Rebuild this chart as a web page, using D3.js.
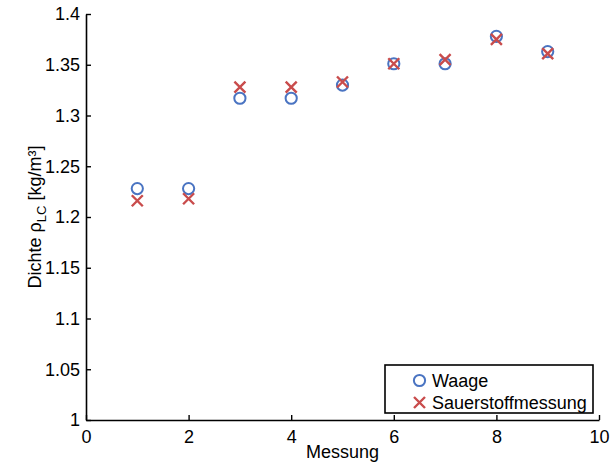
<!DOCTYPE html>
<html>
<head>
<meta charset="utf-8">
<script src="https://cdn.jsdelivr.net/npm/d3@7"></script>
<style>
  body { margin: 0; background: #fff; }
  svg text { font-family: "Liberation Sans", Arial, sans-serif; fill: #000; }
</style>
</head>
<body>
<svg id="chart" width="611" height="467"></svg>
<script>
// Messung (x) against Dichte rho_LC (y), two methods
const messung = [1, 2, 3, 4, 5, 6, 7, 8, 9];
const waage = [1.228, 1.228, 1.317, 1.317, 1.330, 1.351, 1.351, 1.378, 1.363];
const sauerstoff = [1.216, 1.218, 1.328, 1.328, 1.333, 1.351, 1.355, 1.375, 1.361];
const xTicks = [0, 2, 4, 6, 8, 10];
const yTicks = [1, 1.05, 1.1, 1.15, 1.2, 1.25, 1.3, 1.35, 1.4];
const seriesNames = ["Waage", "Sauerstoffmessung"];

const BLUE = "#4a74c2";
const RED = "#c94c4c";
const FONT = 18;

// plot box (window.top exists, so no plain "top")
const mLeft = 86, mRight = 599, mTop = 14, mBottom = 420;

const x = d3.scaleLinear().domain([0, 10]).range([mLeft, mRight]);
const y = d3.scaleLinear().domain([1, 1.4]).range([mBottom, mTop]);

const svg = d3.select("#chart");

// axes, ticks pointing inward like matlab
const gx = svg.append("g")
    .attr("transform", `translate(0, ${mBottom})`)
    .call(d3.axisBottom(x).tickValues(xTicks).tickFormat(d3.format("d"))
        .tickSizeInner(-5).tickSizeOuter(0).tickPadding(10));

const gy = svg.append("g")
    .attr("transform", `translate(${mLeft}, 0)`)
    .call(d3.axisLeft(y).tickValues(yTicks).tickFormat(d => String(+d.toFixed(2)))
        .tickSizeInner(-5).tickSizeOuter(0).tickPadding(6));

[gx, gy].forEach(g => {
    g.select(".domain").attr("stroke", "#000").attr("stroke-width", 1.6);
    g.selectAll(".tick line").attr("stroke", "#000").attr("stroke-width", 1.4);
    g.selectAll(".tick text").attr("font-size", FONT).attr("fill", "#000")
        .attr("font-family", "Liberation Sans, Arial, sans-serif");
});

// axis labels
svg.append("text")
    .attr("x", (mLeft + mRight) / 2)
    .attr("y", 458)
    .attr("text-anchor", "middle")
    .attr("font-size", FONT)
    .text("Messung");

const yl = svg.append("text")
    .attr("transform", `translate(41, ${(mTop + mBottom) / 2}) rotate(-90)`)
    .attr("text-anchor", "middle")
    .attr("font-size", FONT);
yl.append("tspan").text("Dichte ρ");
yl.append("tspan").attr("font-size", 13).attr("dy", 5).text("LC");
yl.append("tspan").attr("dy", -5).text(" [kg/m³]");

// markers
const pts = messung.map((m, i) => ({m, w: waage[i], s: sauerstoff[i]}));

svg.append("g").selectAll("circle")
    .data(pts)
    .enter()
    .append("circle")
    .attr("cx", d => x(d.m))
    .attr("cy", d => y(d.w))
    .attr("r", 5.6)
    .attr("fill", "none")
    .attr("stroke", BLUE)
    .attr("stroke-width", 2);

const cross = (g, cx, cy, h) => {
    g.append("path")
        .attr("d", `M${cx - h},${cy - h}L${cx + h},${cy + h}M${cx - h},${cy + h}L${cx + h},${cy - h}`)
        .attr("stroke", RED)
        .attr("stroke-width", 2.4)
        .attr("fill", "none");
};

const gs = svg.append("g");
pts.forEach(d => cross(gs, x(d.m), y(d.s), 5.5));

// legend
const legend = svg.append("g");
legend.append("rect")
    .attr("x", 385).attr("y", 365)
    .attr("width", 208).attr("height", 48)
    .attr("fill", "#fff")
    .attr("stroke", "#000")
    .attr("stroke-width", 1.6);

legend.append("circle")
    .attr("cx", 419.5).attr("cy", 380.5).attr("r", 5.6)
    .attr("fill", "none").attr("stroke", BLUE).attr("stroke-width", 2);
cross(legend, 419.5, 402.5, 5.5);

legend.selectAll("text.lab")
    .data(seriesNames)
    .enter()
    .append("text")
    .attr("class", "lab")
    .attr("x", 432)
    .attr("y", (d, i) => 387 + i * 22)
    .attr("font-size", FONT)
    .text(d => d);
</script>
</body>
</html>
